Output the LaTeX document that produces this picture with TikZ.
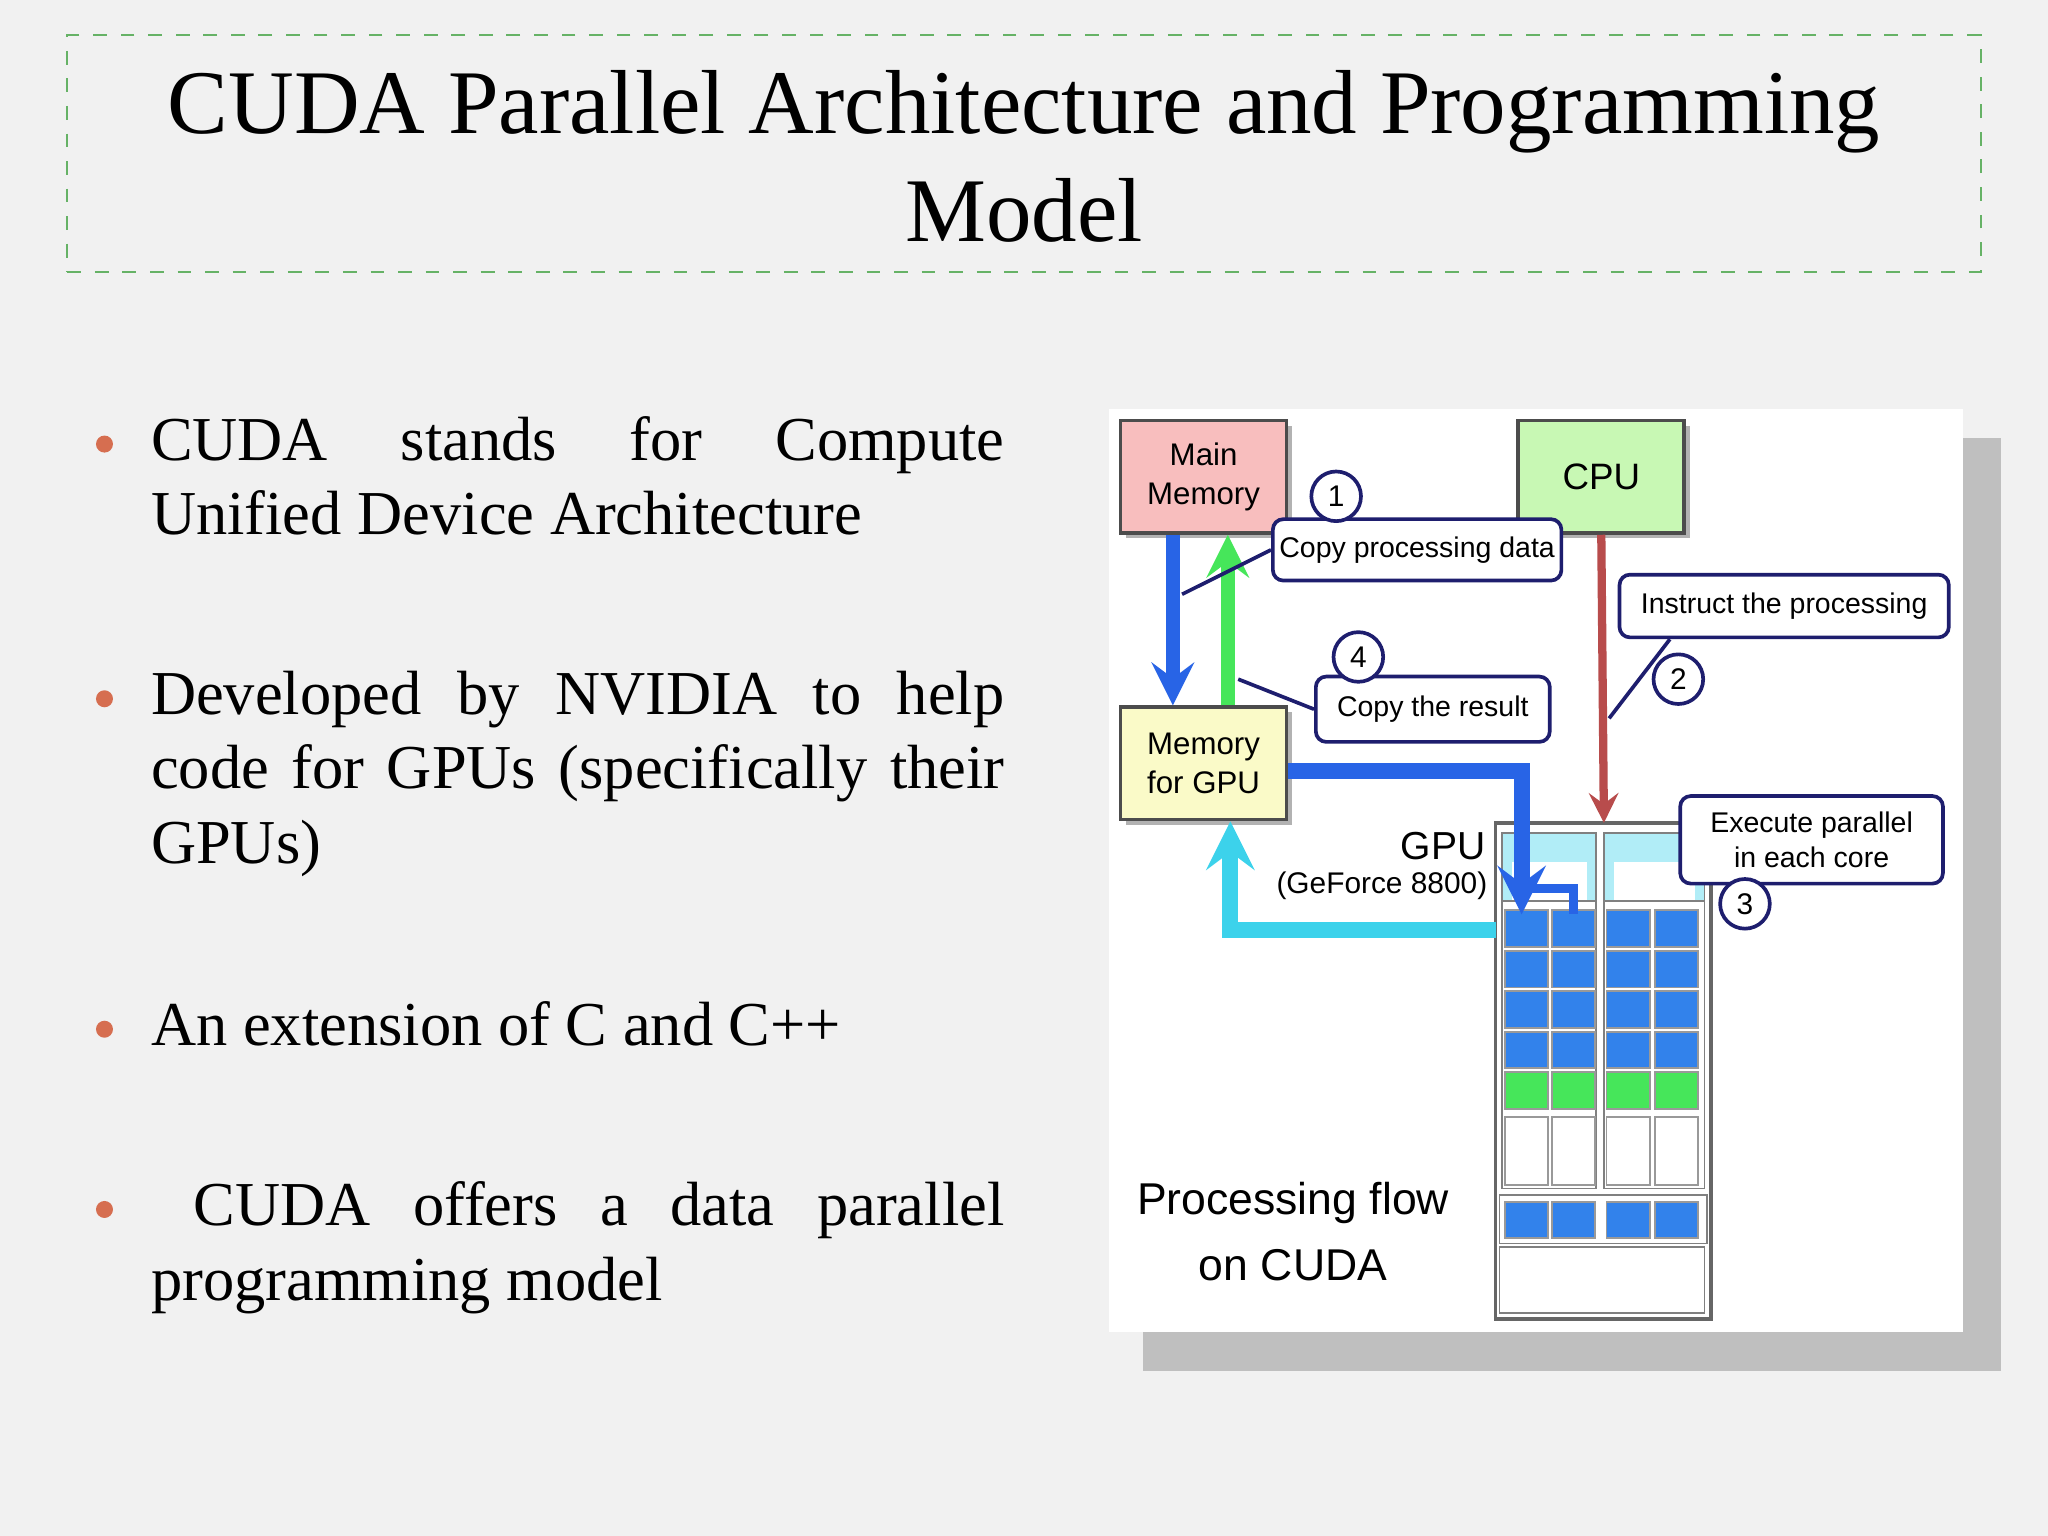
\documentclass[tikz,border=0pt]{standalone}
\usepackage{fontspec}
\setmainfont{Liberation Serif}
\newfontfamily\diag{Liberation Sans}
\usetikzlibrary{positioning,shadows}
\definecolor{bgray}{RGB}{241,241,241}
\definecolor{bulletc}{RGB}{214,110,80}
\definecolor{mainpink}{RGB}{248,190,190}
\definecolor{cpugreen}{RGB}{200,248,180}
\definecolor{gpuyellow}{RGB}{250,250,200}
\definecolor{cellblue}{RGB}{50,130,235}
\definecolor{cellgreen}{RGB}{70,230,90}
\definecolor{linkblue}{RGB}{40,100,230}
\definecolor{linkcyan}{RGB}{60,210,235}
\definecolor{navy}{RGB}{30,30,110}
\begin{document}
\begin{tikzpicture}[x=0.01cm, y=-0.01cm, >=stealth]
        \tikzstyle{bul}=[anchor=north west, text width=6.53cm, align=justify, font={\fontsize{13.6}{16.2}\selectfont\hyphenpenalty=10000\relax}, inner sep=0pt]
        \tikzstyle{dot}=[circle, fill=bulletc, inner sep=0pt, minimum size=0.13cm]
        \tikzstyle{unit}=[draw=black!70, line width=0.8pt, minimum width=1.27cm, minimum height=0.86cm, align=center, font=\diag\fontsize{6.8}{8.5}\selectfont, drop shadow={shadow xshift=0.04cm, shadow yshift=-0.04cm, opacity=0.6}]
        \tikzstyle{callout}=[draw=navy, line width=0.8pt, rounded corners=0.08cm, fill=white, align=center, font=\diag\fontsize{6.2}{7.5}\selectfont, inner sep=0.05cm]
        \tikzstyle{num}=[draw=navy, line width=0.8pt, circle, fill=white, inner sep=0pt, minimum size=0.38cm, font=\diag\fontsize{6.5}{8}\selectfont]

        % background and title
        \fill[bgray] (0,0) rectangle (1568,1176);
        \node[draw=green!50!black!60, dashed, minimum width=14.64cm, minimum height=1.81cm] (titlebox) at (784,117.5) {};
        \node[align=center, font=\fontsize{19.8}{23.5}\selectfont] (title) at (784,120) {CUDA Parallel Architecture and Programming\\Model};

        % bullets
        \node[dot] (d1) at (80,340) {};
        \node[bul] (b1) at (115,318) {CUDA stands for Compute Unified Device Architecture};
        \node[dot] (d2) at (80,535) {};
        \node[bul] (b2) at (115,513) {Developed by NVIDIA to help code for GPUs (specifically their GPUs)};
        \node[dot] (d3) at (80,788) {};
        \node[bul] (b3) at (115,766) {An extension of C and C++};
        \node[dot] (d4) at (80,926) {};
        \node[bul] (b4) at (115,904) {\ CUDA offers a data parallel programming model};

        % diagram panel
        \fill[black!25] (875,335) rectangle (1532,1050);
        \fill[white] (849,313) rectangle (1503,1020);

        \node[unit, fill=mainpink] (mainmem) at (921.5,365) {Main\\Memory};
        \node[unit, fill=cpugreen, font=\diag\fontsize{8}{10}\selectfont] (cpu) at (1226,365) {CPU};
        \node[unit, fill=gpuyellow] (gpumem) at (921.5,584.5) {Memory\\for GPU};

        % GPU block
        \draw[black!60, line width=0.8pt, fill=white] (1145,630) rectangle (1310,1010);
        \draw[black!50, fill=linkcyan!40] (1150,638) rectangle (1222,690);
        \draw[black!50, fill=linkcyan!40] (1228,638) rectangle (1305,690);
        \fill[white] (1158,660) rectangle (1215,690);
        \fill[white] (1236,660) rectangle (1298,690);
        \draw[black!50] (1150,690) rectangle (1222,910);
        \draw[black!50] (1228,690) rectangle (1305,910);
        \foreach \c in {1152,1188,1230,1267} {
            \foreach \r in {697,728,759,790} {
                \draw[black!40, fill=cellblue] (\c,\r) rectangle ++(33,28);
            }
            \draw[black!40, fill=cellgreen] (\c,821) rectangle ++(33,28);
            \draw[black!40, fill=white] (\c,855) rectangle ++(33,52);
            \draw[black!40, fill=cellblue] (\c,920) rectangle ++(33,28);
        }
        \draw[black!50] (1148,915) rectangle (1307,952);
        \draw[black!50] (1148,955) rectangle (1305,1005);
        \coordinate (gputop) at (1228,630);
        \coordinate (gpuleft) at (1145,712);
        \coordinate (core) at (1165,700);

        \node[font=\diag\fontsize{8.5}{10}\selectfont] (gpulab) at (1105,648) {GPU};
        \node[font=\diag\fontsize{6.5}{8}\selectfont] (gpusub) at (1058,678) {(GeForce 8800)};
        \node[align=center, font=\diag\fontsize{9.7}{14.5}\selectfont] (flow) at (990,943) {Processing flow\\on CUDA};

        % data paths
        \draw[->, linkblue, line width=3pt] (mainmem.south -| 898,0) -- (gpumem.north -| 898,0);
        \draw[->, cellgreen, line width=3pt] (gpumem.north -| 940,0) -- (mainmem.south -| 940,0);
        \draw[->, red!60!black!70, line width=1.8pt] (cpu.south) -- (gputop);
        \draw[->, linkblue, line width=3.5pt] (gpumem.east |- 0,590) -- (1165,590) -- (core);
        \draw[linkblue, line width=2pt] (1165,680) -- (1205,680) -- (1205,700);
        \draw[->, linkcyan, line width=3.5pt] (gpuleft) -- (942,712) -- (gpumem.south -| 942,0);

        % callouts
        \node[callout, minimum width=2.16cm, minimum height=0.47cm] (copyin) at (1085,421) {Copy processing data};
        \node[num] (n1) at (1023,380) {1};
        \draw[navy, line width=0.8pt] (copyin.west) -- (905,455);
        \node[callout, minimum width=1.79cm, minimum height=0.5cm] (copyout) at (1097,543) {Copy the result};
        \node[num] (n4) at (1040,503) {4};
        \draw[navy, line width=0.8pt] (copyout.west) -- (948,520);
        \node[callout, minimum width=2.52cm, minimum height=0.48cm] (instruct) at (1366,464) {Instruct the processing};
        \node[num] (n2) at (1285,520) {2};
        \draw[navy, line width=0.8pt] (instruct.south west) ++(40,0) -- (1232,550);
        \node[callout, minimum width=2.01cm, minimum height=0.67cm] (execute) at (1387,643) {Execute parallel\\in each core};
        \node[num] (n3) at (1336,692) {3};
\end{tikzpicture}
\end{document}
